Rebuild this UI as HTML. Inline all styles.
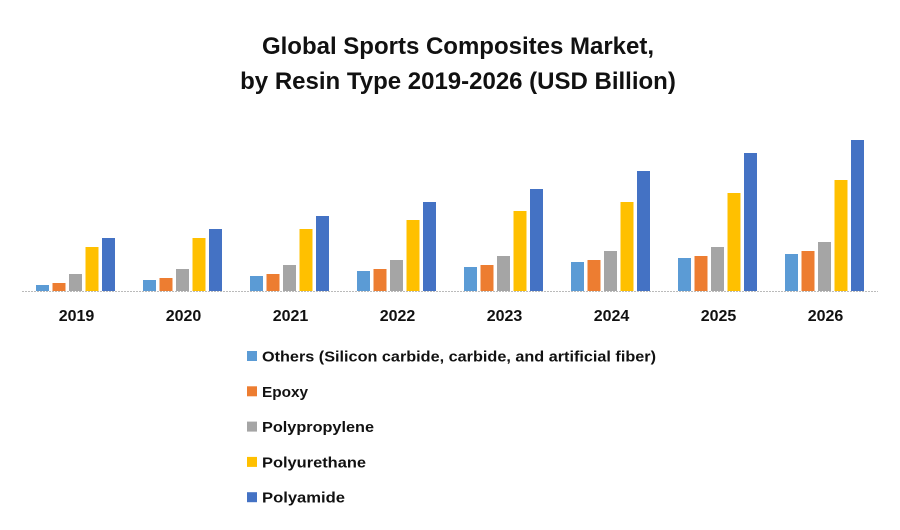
<!DOCTYPE html>
<html><head><meta charset="utf-8"><style>
body{margin:0;background:#fff;width:900px;height:525px;overflow:hidden;font-family:"Liberation Sans",sans-serif}
</style></head><body>
<svg width="900" height="525">
<text x="458" y="54" text-anchor="middle" font-size="24" font-weight="bold" fill="#111">Global Sports Composites Market,</text>
<text x="458" y="89" text-anchor="middle" font-size="24" font-weight="bold" fill="#111">by Resin Type 2019-2026 (USD Billion)</text>
<line x1="22" y1="291.5" x2="878" y2="291.5" stroke="#bbb" stroke-width="1" stroke-dasharray="2,1"/>
<g id="bars"></g><g id="xlabels"></g><g id="legend"></g>
</svg>
<script>
const categories=["2019","2020","2021","2022","2023","2024","2025","2026"];
const seriesNames=["Others (Silicon carbide, carbide, and artificial fiber)","Epoxy","Polypropylene","Polyurethane","Polyamide"];
const others=[6,11,15,20,24,29,33,37];
const epoxy=[8,13,17,22,26,31,35,40];
const polypropylene=[17,22,26,31,35,40,44,49];
const polyurethane=[44,53,62,71,80,89,98,111];
const polyamide=[53,62,75,89,102,120,138,151];
const series=[others,epoxy,polypropylene,polyurethane,polyamide];
const colors=["#5b9bd5","#ed7d31","#a5a5a5","#ffc000","#4472c4"];
const legendLens=[394,46,112,104,83];
const NS="http://www.w3.org/2000/svg";
const x0=22,x1=878,base=291,scale=1;
const step=(x1-x0)/categories.length;
function xBand(i){return x0+step*i+step/2;}
function yVal(v){return base-v*scale;}
const bw=13,bstep=16.5;
const gb=document.getElementById('bars');
categories.forEach((c,i)=>{
  series.forEach((s,k)=>{
    const r=document.createElementNS(NS,'rect');
    const x=xBand(i)-2*bstep-bw/2+k*bstep;
    r.setAttribute('x',x);r.setAttribute('y',yVal(s[i]));
    r.setAttribute('width',bw);r.setAttribute('height',s[i]*scale);
    r.setAttribute('fill',colors[k]);
    
    
    gb.appendChild(r);
  });
  const t=document.createElementNS(NS,'text');
  t.setAttribute('x',xBand(i)+1);t.setAttribute('y',321);
  t.setAttribute('text-anchor','middle');t.setAttribute('font-size','16');
  t.setAttribute('font-weight','bold');t.setAttribute('fill','#111');
  t.textContent=c;
  
  
  document.getElementById('xlabels').appendChild(t);
});
const gl=document.getElementById('legend');
seriesNames.forEach((n,k)=>{
  const y=356+k*35.3;
  const r=document.createElementNS(NS,'rect');
  r.setAttribute('x',247);r.setAttribute('y',y-5);r.setAttribute('width',10);r.setAttribute('height',10);
  r.setAttribute('fill',colors[k]);
  
  
  gl.appendChild(r);
  const t=document.createElementNS(NS,'text');
  t.setAttribute('x',262);t.setAttribute('y',y+5.5);
  t.setAttribute('font-size','15');t.setAttribute('font-weight','bold');t.setAttribute('fill','#111');
  t.setAttribute('textLength',legendLens[k]);
  t.setAttribute('lengthAdjust','spacingAndGlyphs');
  t.textContent=n;
  
  
  gl.appendChild(t);
});
</script>
</body></html>
